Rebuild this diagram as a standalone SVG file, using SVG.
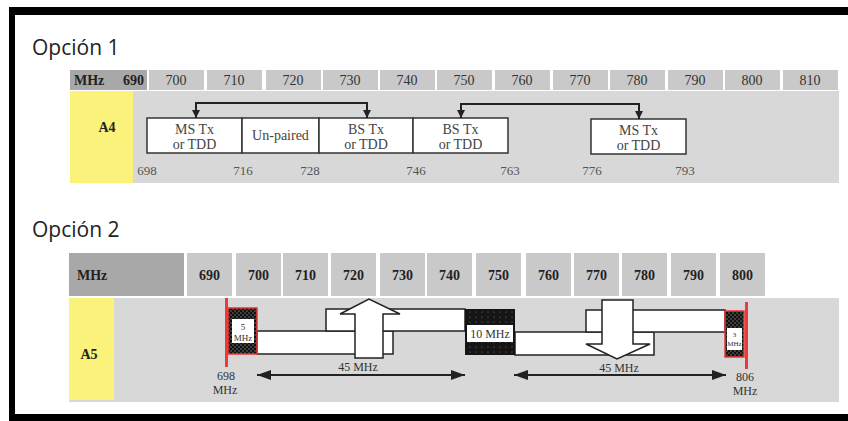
<svg xmlns="http://www.w3.org/2000/svg" width="848" height="421" viewBox="0 0 848 421">
<style>
.title{font-family:"Open Sans","Noto Sans",sans-serif;font-size:21px;fill:#222}
.hdr{fill:#c9c9c9}
.hdrd{fill:#a8a8a8}
.ht{font-family:"Liberation Serif",serif;font-size:14px;fill:#333;text-anchor:middle}
.htb{font-family:"Liberation Serif",serif;font-size:14px;font-weight:bold;fill:#222}
.body{fill:#d8d8d8}
.yel{fill:#faf27a}
.box{fill:#fff;stroke:#333;stroke-width:1.5}
.bt{font-family:"Liberation Serif",serif;font-size:14px;fill:#444;text-anchor:middle}
.num{font-family:"Liberation Serif",serif;font-size:13px;fill:#555;text-anchor:middle}
.band{fill:#fff;stroke:#222;stroke-width:1.5}
.lbl{font-family:"Liberation Serif",serif;font-size:12px;fill:#333;text-anchor:middle}
.sm{font-family:"Liberation Serif",serif;fill:#333;text-anchor:middle}
.red{fill:#ec3a3a}
.con{fill:none;stroke:#222;stroke-width:2}
</style>
<defs>
<pattern id="chk" width="4" height="4" patternUnits="userSpaceOnUse">
<rect width="4" height="4" fill="#111"/>
<circle cx="1" cy="1" r="0.8" fill="#777"/>
<circle cx="3" cy="3" r="0.8" fill="#777"/>
</pattern>
<pattern id="dots" width="6" height="5" patternUnits="userSpaceOnUse">
<rect width="6" height="5" fill="#151515"/>
<circle cx="2" cy="2" r="0.6" fill="#777"/>
</pattern>
<marker id="ah" viewBox="0 0 8 8" refX="8" refY="4" markerWidth="8" markerHeight="8" markerUnits="userSpaceOnUse" orient="auto-start-reverse">
<path d="M0,0 L8,4 L0,8 z" fill="#222"/>
</marker>
<marker id="ab" viewBox="0 0 14 10" refX="14" refY="5" markerWidth="14" markerHeight="10" markerUnits="userSpaceOnUse" orient="auto-start-reverse">
<path d="M0,0 L14,5 L0,10 z" fill="#222"/>
</marker>
</defs>
<rect width="848" height="421" fill="#fff"/>
<g id="frame">
<rect x="9" y="7" width="839" height="8" fill="#000"/>
<rect x="9" y="7" width="6" height="414" fill="#000"/>
<rect x="9" y="414" width="839" height="7" fill="#000"/>
</g>

<g id="option1">
<text class="title" x="32" y="55">Opción 1</text>
<g id="header1">
<rect class="hdrd" x="70" y="70" width="77" height="20"/>
<rect class="hdr" x="149" y="70" width="55" height="20"/>
<rect class="hdr" x="207" y="70" width="55" height="20"/>
<rect class="hdr" x="266" y="70" width="55" height="20"/>
<rect class="hdr" x="323" y="70" width="55" height="20"/>
<rect class="hdr" x="380" y="70" width="55" height="20"/>
<rect class="hdr" x="437" y="70" width="55" height="20"/>
<rect class="hdr" x="495" y="70" width="55" height="20"/>
<rect class="hdr" x="553" y="70" width="55" height="20"/>
<rect class="hdr" x="610" y="70" width="55" height="20"/>
<rect class="hdr" x="668" y="70" width="55" height="20"/>
<rect class="hdr" x="725" y="70" width="55" height="20"/>
<rect class="hdr" x="783" y="70" width="55" height="20"/>
<text class="htb" x="74" y="85">MHz</text>
<text class="htb" x="123" y="85">690</text>
<text class="ht" x="176" y="85">700</text>
<text class="ht" x="234" y="85">710</text>
<text class="ht" x="293" y="85">720</text>
<text class="ht" x="350" y="85">730</text>
<text class="ht" x="407" y="85">740</text>
<text class="ht" x="464" y="85">750</text>
<text class="ht" x="522" y="85">760</text>
<text class="ht" x="580" y="85">770</text>
<text class="ht" x="637" y="85">780</text>
<text class="ht" x="695" y="85">790</text>
<text class="ht" x="752" y="85">800</text>
<text class="ht" x="810" y="85">810</text>
</g>
<rect class="body" x="70" y="91" width="769" height="92"/>
<g id="A4">
<rect class="yel" x="70" y="91" width="63" height="92"/>
<text class="htb" x="107" y="132" text-anchor="middle">A4</text>
</g>
<g id="b698">
<rect class="box" x="147" y="118" width="95" height="35"/>
<text class="bt" x="194.5" y="134">MS Tx</text>
<text class="bt" x="194.5" y="149">or TDD</text>
</g>
<g id="b716">
<rect class="box" x="242" y="118" width="77" height="35"/>
<text class="bt" x="280.5" y="140">Un-paired</text>
</g>
<g id="b728">
<rect class="box" x="319" y="118" width="94" height="35"/>
<text class="bt" x="366" y="134">BS Tx</text>
<text class="bt" x="366" y="149">or TDD</text>
</g>
<g id="b746">
<rect class="box" x="413" y="118" width="95" height="35"/>
<text class="bt" x="460.5" y="134">BS Tx</text>
<text class="bt" x="460.5" y="149">or TDD</text>
</g>
<g id="b776">
<rect class="box" x="591" y="119" width="95" height="35"/>
<text class="bt" x="638.5" y="135">MS Tx</text>
<text class="bt" x="638.5" y="150">or TDD</text>
</g>
<g id="freq1">
<text class="num" x="147" y="175">698</text>
<text class="num" x="243" y="175">716</text>
<text class="num" x="310" y="175">728</text>
<text class="num" x="416" y="175">746</text>
<text class="num" x="510" y="175">763</text>
<text class="num" x="592" y="175">776</text>
<text class="num" x="685" y="175">793</text>
</g>
</g>

<g id="option2">
<text class="title" x="32" y="237">Opción 2</text>
<g id="header2">
<rect class="hdrd" x="69" y="253" width="115" height="43"/>
<rect class="hdr" x="187" y="253" width="45" height="43"/>
<rect class="hdr" x="236" y="253" width="45" height="43"/>
<rect class="hdr" x="283" y="253" width="45" height="43"/>
<rect class="hdr" x="331" y="253" width="45" height="43"/>
<rect class="hdr" x="380" y="253" width="45" height="43"/>
<rect class="hdr" x="427" y="253" width="45" height="43"/>
<rect class="hdr" x="476" y="253" width="45" height="43"/>
<rect class="hdr" x="526" y="253" width="45" height="43"/>
<rect class="hdr" x="574" y="253" width="45" height="43"/>
<rect class="hdr" x="622" y="253" width="45" height="43"/>
<rect class="hdr" x="671" y="253" width="45" height="43"/>
<rect class="hdr" x="720" y="253" width="45" height="43"/>
<text class="htb" x="77" y="280">MHz</text>
<text class="htb" x="209.5" y="280" text-anchor="middle">690</text>
<text class="htb" x="258.5" y="280" text-anchor="middle">700</text>
<text class="htb" x="305.5" y="280" text-anchor="middle">710</text>
<text class="htb" x="353.5" y="280" text-anchor="middle">720</text>
<text class="htb" x="402.5" y="280" text-anchor="middle">730</text>
<text class="htb" x="449.5" y="280" text-anchor="middle">740</text>
<text class="htb" x="498.5" y="280" text-anchor="middle">750</text>
<text class="htb" x="548.5" y="280" text-anchor="middle">760</text>
<text class="htb" x="596.5" y="280" text-anchor="middle">770</text>
<text class="htb" x="644.5" y="280" text-anchor="middle">780</text>
<text class="htb" x="693.5" y="280" text-anchor="middle">790</text>
<text class="htb" x="742.5" y="280" text-anchor="middle">800</text>
</g>
<rect class="body" x="69" y="298" width="770" height="104"/>
<g id="A5">
<rect class="yel" x="69" y="298" width="45" height="102"/>
<text class="htb" x="89" y="359" text-anchor="middle">A5</text>
</g>
<g id="bands">
<rect class="band" x="257" y="331" width="136" height="23"/>
<rect class="band" x="326" y="309" width="139" height="22"/>
<rect class="band" x="515" y="332" width="139" height="23"/>
<rect class="band" x="586" y="310" width="139" height="22"/>
</g>
<g id="uparrow">
<path d="M355,358 V314 H340 L369,299 L400,314 H383 V358 z" fill="#fff" stroke="#222" stroke-width="1.5"/>
</g>
<g id="downarrow">
<path d="M602,300 H633 V344 H650 L617,359 L586,344 H602 z" fill="#fff" stroke="#222" stroke-width="1.5"/>
</g>
<g id="g5">
<rect x="228" y="308" width="29" height="46" fill="url(#chk)" stroke="#e33" stroke-width="1.5"/>
<rect x="232" y="319" width="22" height="24" fill="#fff"/>
<text class="sm" x="243" y="330" font-size="9">5</text>
<text class="sm" x="243" y="341" font-size="9">MHz</text>
</g>
<g id="g10">
<rect x="465" y="309" width="50" height="46" fill="url(#dots)"/>
<rect x="467" y="325" width="46" height="17" fill="#fff"/>
<text class="sm" x="490" y="338" font-size="12">10 MHz</text>
</g>
<g id="g3">
<rect x="725" y="311" width="19" height="46" fill="url(#chk)" stroke="#e33" stroke-width="1.5"/>
<rect x="727" y="328" width="15" height="22" fill="#fff"/>
<text class="sm" x="734.5" y="337" font-size="7">3</text>
<text class="sm" x="734.5" y="346" font-size="7">MHz</text>
</g>
<g id="edges">
<rect class="red" x="225" y="298" width="3" height="69"/>
<rect class="red" x="745" y="302" width="3" height="67"/>
<text class="lbl" x="226" y="380">698</text>
<text class="lbl" x="225" y="394">MHz</text>
<text class="lbl" x="745" y="381">806</text>
<text class="lbl" x="745" y="395">MHz</text>
</g>
<text class="lbl" x="358" y="371">45 MHz</text>
<text class="lbl" x="619" y="372">45 MHz</text>
</g>

<g id="connectors">
<path class="con" d="M196,118 V103 H367 V118" marker-start="url(#ah)" marker-end="url(#ah)"/>
<path class="con" d="M461,118 V104 H639 V119" marker-start="url(#ah)" marker-end="url(#ah)"/>
<path class="con" d="M257,375 H465" stroke-width="2.5" marker-start="url(#ab)" marker-end="url(#ab)"/>
<path class="con" d="M514,375 H726" stroke-width="2.5" marker-start="url(#ab)" marker-end="url(#ab)"/>
</g>
</svg>
